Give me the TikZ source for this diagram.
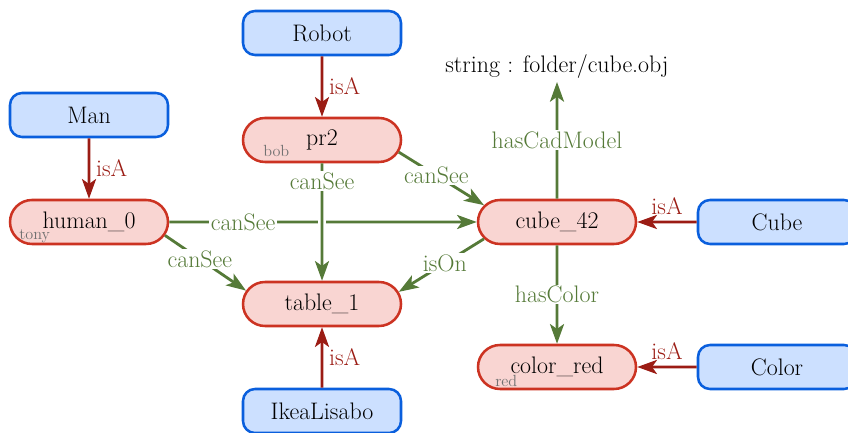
\documentclass[tikz,border=0pt]{standalone}
\usetikzlibrary{arrows.meta, shapes.misc}

\definecolor{clsfill}{HTML}{CCE0FF}
\definecolor{clsdraw}{HTML}{0A5FDD}
\definecolor{instfill}{HTML}{F9D5D2}
\definecolor{instdraw}{HTML}{CC3322}
\definecolor{isared}{HTML}{9B1C14}
\definecolor{relgreen}{HTML}{557A38}
\definecolor{taggray}{HTML}{707070}

\newcommand{\mainfont}{\fontsize{17}{20}\selectfont}

\tikzset{
    cls/.style={draw=clsdraw, fill=clsfill, line width=1.8pt, rounded corners=0.3cm,
        minimum width=3.95cm, minimum height=1.1cm, inner sep=0pt, font=\mainfont},
    inst/.style={rounded rectangle, draw=instdraw, fill=instfill, line width=1.8pt,
        minimum width=3.95cm, minimum height=1.1cm, inner sep=0pt, font=\mainfont},
    tag/.style={text=taggray, inner sep=0pt, anchor=base west, font=\fontsize{11.5}{13}\selectfont},
    isa/.style={draw=isared, line width=2pt, -{Stealth[length=14pt, width=10pt, inset=3.5pt]}},
    rel/.style={draw=relgreen, line width=2pt, -{Stealth[length=14pt, width=10pt, inset=3.5pt]}},
    isalbl/.style={text=isared, inner sep=4pt, font=\mainfont},
    rellbl/.style={text=relgreen, fill=white, inner sep=1pt, font=\mainfont},
}

\begin{document}
\begin{tikzpicture}
    \clip (0,0) rectangle (21.2,10.8);

    % classes
    \node[cls] (robot) at (8.05, 9.975) {Robot};
    \node[cls] (man) at (2.225, 7.925) {Man};
    \node[cls] (cube) at (19.425, 5.25) {Cube};
    \node[cls] (color) at (19.425, 1.625) {Color};
    \node[cls] (ikea) at (8.05, 0.525) {IkeaLisabo};

    % instances
    \node[inst] (pr2) at (8.05, 7.3) {pr2};
    \node[inst] (human) at (2.225, 5.25) {human\_0};
    \node[inst] (cube42) at (13.925, 5.25) {cube\_42};
    \node[inst] (table) at (8.05, 3.2) {table\_1};
    \node[inst] (colorred) at (13.925, 1.625) {color\_red};
    \node[font=\mainfont, inner sep=2pt] (cadfile) at (13.925, 9.125) {string : folder/cube.obj};

    % ids
    \node[tag] at ([shift={(-1.475,-0.425)}]pr2.center) {bob};
    \node[tag] at ([shift={(-1.75,-0.43)}]human.center) {tony};
    \node[tag] at ([shift={(-1.55,-0.48)}]colorred.center) {red};

    % isA
    \draw[isa] (robot) -- node[isalbl, right] {isA} (pr2);
    \draw[isa] (man) -- node[isalbl, right] {isA} (human);
    \draw[isa] (ikea) -- node[isalbl, right] {isA} (table);
    \draw[isa] (cube) -- node[isalbl, above] {isA} (cube42);
    \draw[isa] (color) -- node[isalbl, above] {isA} (colorred);

    % relations
    \draw[rel] (human) -- node[rellbl, pos=0.24] {canSee} (cube42);
    \draw[white, line width=5.5pt] ([yshift=3pt]pr2 |- human) -- ([yshift=-3pt]pr2 |- human);
    \draw[rel] (pr2) -- node[rellbl, pos=0.15] {canSee} (table);
    \draw[rel] (pr2.-9) -- node[rellbl, pos=0.44] {canSee} (cube42.167);
    \draw[rel] (human.-10) -- node[rellbl, pos=0.43] {canSee} (table.170);
    \draw[rel] (cube42.-167) -- node[rellbl, pos=0.46] {isOn} (table.9);
    \draw[rel] (cube42) -- node[rellbl] {hasCadModel} (cadfile);
    \draw[rel] (cube42) -- node[rellbl] {hasColor} (colorred);
\end{tikzpicture}
\end{document}
